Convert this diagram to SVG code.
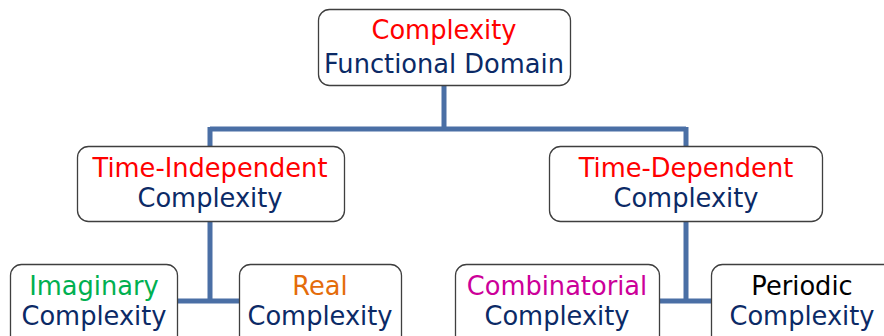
<svg xmlns="http://www.w3.org/2000/svg" width="884" height="336" viewBox="0 0 884 336">
  <style>
    .box { fill: #ffffff; stroke: #3f3f3f; stroke-width: 1.3; }
    .link { fill: none; stroke: #4a6fa5; stroke-width: 5; }
    text { font-family: "DejaVu Sans", "Liberation Sans", sans-serif; font-size: 25.7px; text-anchor: middle; }
    .navy { fill: #0b2a66; }
    .red { fill: #ff0000; }
    .green { fill: #00b050; }
    .orange { fill: #e46c0a; }
    .magenta { fill: #cc0099; }
    .black { fill: #000000; }
  </style>

  <g id="connectors">
    <path class="link" d="M444 85 V129 M210 129 H686 M210 127 V146 M686 127 V146"/>
    <path class="link" d="M210 221 V301 M178 301 H239"/>
    <path class="link" d="M686 222 V301 M659 301 H711"/>
  </g>

  <g id="functional-domain">
    <rect class="box" x="318.5" y="9.5" width="252" height="76" rx="11"/>
    <text x="444" y="38.5" class="red">Complexity</text>
    <text x="444" y="73" class="navy">Functional Domain</text>
  </g>

  <g id="time-independent">
    <rect class="box" x="77.5" y="146.5" width="267" height="75" rx="11"/>
    <text x="210" y="177" class="red">Time-Independent</text>
    <text x="210" y="207" class="navy">Complexity</text>
  </g>

  <g id="time-dependent">
    <rect class="box" x="549.5" y="146.5" width="273" height="75" rx="11"/>
    <text x="686" y="177" class="red">Time-Dependent</text>
    <text x="686" y="207" class="navy">Complexity</text>
  </g>

  <g id="imaginary">
    <rect class="box" x="10.5" y="264.5" width="167" height="90" rx="11"/>
    <text x="94" y="295" class="green">Imaginary</text>
    <text x="94" y="325" class="navy">Complexity</text>
  </g>

  <g id="real">
    <rect class="box" x="239.5" y="264.5" width="162" height="90" rx="11"/>
    <text x="320" y="295" class="orange">Real</text>
    <text x="320" y="325" class="navy">Complexity</text>
  </g>

  <g id="combinatorial">
    <rect class="box" x="455.5" y="264.5" width="204" height="90" rx="11"/>
    <text x="557" y="295" class="magenta">Combinatorial</text>
    <text x="557" y="325" class="navy">Complexity</text>
  </g>

  <g id="periodic">
    <rect class="box" x="711.5" y="264.5" width="184" height="90" rx="11"/>
    <text x="802" y="295" class="black">Periodic</text>
    <text x="802" y="325" class="navy">Complexity</text>
  </g>
</svg>
